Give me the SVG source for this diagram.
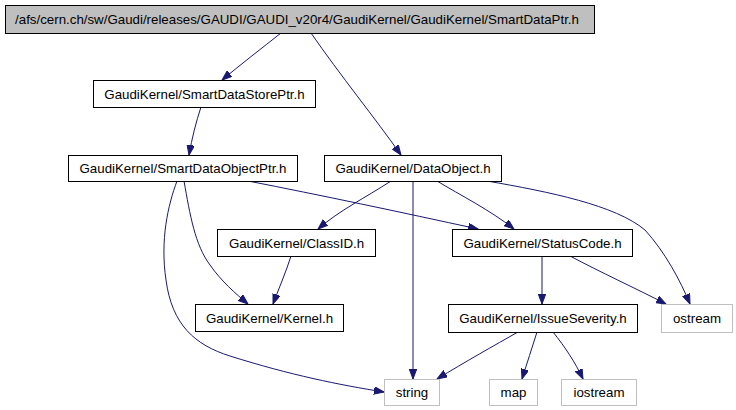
<svg xmlns="http://www.w3.org/2000/svg" width="736" height="410" viewBox="0 0 736 410">
<style>
.n rect{fill:#ffffff;stroke:#000000;stroke-width:1}
.x rect{fill:#ffffff;stroke:#bfbfbf;stroke-width:1}
.root rect{fill:#bfbfbf;stroke:#000000;stroke-width:1}
text{font-family:"Liberation Sans",Arial,sans-serif;font-size:13.3px;fill:#000000;text-anchor:middle}
#edges path{fill:none;stroke:#191970;stroke-width:1;marker-end:url(#arr)}
</style>
<defs>
<marker id="arr" markerUnits="userSpaceOnUse" markerWidth="11" markerHeight="8" refX="10" refY="3.75" orient="auto">
<path d="M0,0 L10,3.75 L0,7.5 z" fill="#191970" stroke="#191970" stroke-width="1"/>
</marker>
</defs>
<rect width="736" height="410" fill="#ffffff"/>
<g id="edges">
<path d="M281,33 C262,48 240,65 222,80"/>
<path d="M311,33 C340,75 375,118 401,155"/>
<path d="M201,107 C196,122 192,138 189,155"/>
<path d="M184,181 C190,215 195,245 210,265 C222,282 235,293 248,304"/>
<path d="M177,181 C168,205 160,240 166,280 C172,325 195,345 230,356 C290,375 340,385 384,392"/>
<path d="M248,181 C320,195 400,212 478,229"/>
<path d="M391,181 C365,198 340,210 318,229"/>
<path d="M413,181 L413,379"/>
<path d="M437,181 C460,195 490,210 514,229"/>
<path d="M487,181 C550,192 615,205 645,230 C665,252 680,280 690,304"/>
<path d="M542,256 L542,304"/>
<path d="M570,256 C600,272 635,288 666,304"/>
<path d="M291,256 C286,272 279,288 273,304"/>
<path d="M518,332 C495,345 465,362 437,379"/>
<path d="M537,332 C532,348 527,363 522,379"/>
<path d="M553,332 C565,347 575,362 583,379"/>
</g>
<g id="root" class="root"><rect x="5.5" y="5.5" width="589" height="28"/><text x="297" y="24">/afs/cern.ch/sw/Gaudi/releases/GAUDI/GAUDI_v20r4/GaudiKernel/GaudiKernel/SmartDataPtr.h</text></g>
<g id="smartdatastoreptr" class="n"><rect x="93.5" y="80.5" width="222" height="27"/><text x="204.5" y="99">GaudiKernel/SmartDataStorePtr.h</text></g>
<g id="smartdataobjectptr" class="n"><rect x="68.5" y="155.5" width="229" height="26"/><text x="183" y="173">GaudiKernel/SmartDataObjectPtr.h</text></g>
<g id="dataobject" class="n"><rect x="324.5" y="155.5" width="177" height="26"/><text x="413" y="173">GaudiKernel/DataObject.h</text></g>
<g id="classid" class="n"><rect x="217.5" y="229.5" width="158" height="27"/><text x="296.5" y="248">GaudiKernel/ClassID.h</text></g>
<g id="statuscode" class="n"><rect x="452.5" y="229.5" width="180" height="27"/><text x="542.5" y="248">GaudiKernel/StatusCode.h</text></g>
<g id="kernel" class="n"><rect x="195.5" y="304.5" width="148" height="27"/><text x="269.5" y="323">GaudiKernel/Kernel.h</text></g>
<g id="issueseverity" class="n"><rect x="448.5" y="304.5" width="189" height="28"/><text x="543" y="323">GaudiKernel/IssueSeverity.h</text></g>
<g id="ostream" class="x"><rect x="661.5" y="304.5" width="71" height="28"/><text x="697" y="323">ostream</text></g>
<g id="string" class="x"><rect x="384.5" y="379.5" width="55" height="26"/><text x="412" y="397">string</text></g>
<g id="map" class="x"><rect x="489.5" y="379.5" width="48" height="26"/><text x="513.5" y="397">map</text></g>
<g id="iostream" class="x"><rect x="561.5" y="379.5" width="75" height="26"/><text x="599" y="397">iostream</text></g>
</svg>
